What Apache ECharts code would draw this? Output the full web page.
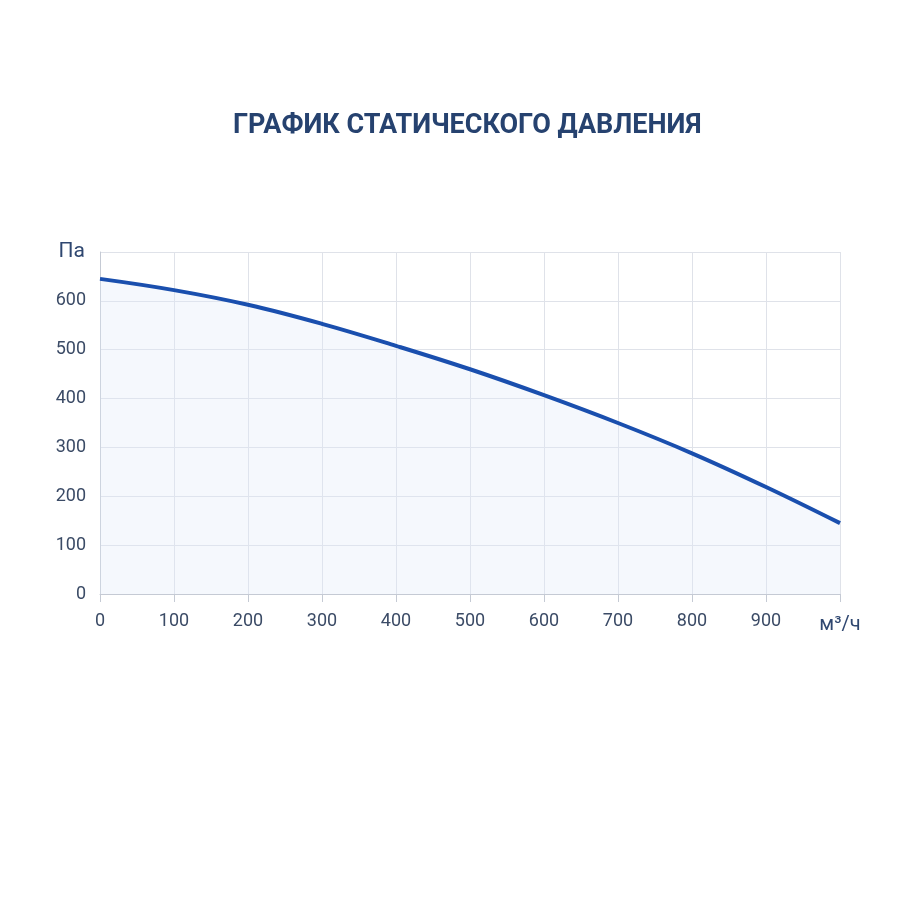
<!DOCTYPE html>
<html>
<head>
<meta charset="utf-8">
<script src="https://cdn.jsdelivr.net/npm/echarts@6/dist/echarts.min.js"></script>
<style>
  html, body { margin: 0; padding: 0; background: #ffffff; }
  #mychart { width: 900px; height: 900px; }
</style>
</head>
<body>
<div id="mychart"></div>
<script>
var flowValues = [0, 100, 200, 300, 400, 500, 600, 700, 800, 900, 1000];
var pressureValues = [645, 622, 592, 553, 508, 460, 407, 350, 288, 219, 145];

var points = flowValues.map(function (x, i) { return [x, pressureValues[i]]; });

var dom = document.getElementById("mychart");
var myChart = echarts.init(dom);

var option = {
    backgroundColor: '#ffffff',
    title: {
        text: 'ГРАФИК СТАТИЧЕСКОГО ДАВЛЕНИЯ',
        left: 228,
        top: 108,
        textStyle: {
            fontFamily: 'Roboto',
            fontSize: 27,
            fontWeight: 'bold',
            color: '#26426f'
        }
    },
    grid: {
        left: 100,
        right: 60,
        top: 252,
        bottom: 306
    },
    xAxis: {
        type: 'value',
        min: 0,
        max: 1000,
        interval: 100,
        name: 'м³/ч',
        nameLocation: 'end',
        nameGap: 0,
        nameTextStyle: {
            fontFamily: 'Roboto',
            fontSize: 20,
            color: '#2f4770',
            align: 'center',
            verticalAlign: 'top',
            lineHeight: 62
        },
        axisLine: { lineStyle: { color: '#c5cad4' } },
        axisTick: { show: true, length: 8, lineStyle: { color: '#c5cad4' } },
        axisLabel: {
            fontFamily: 'Roboto',
            fontSize: 18,
            color: '#3b4b66',
            margin: 18,
            formatter: function (v) { return v === 1000 ? '' : v; }
        },
        splitLine: { show: true, lineStyle: { color: '#dfe2e9' } }
    },
    yAxis: {
        type: 'value',
        min: 0,
        max: 700,
        interval: 100,
        name: 'Па',
        nameLocation: 'end',
        nameGap: 0,
        nameTextStyle: {
            fontFamily: 'Roboto',
            fontSize: 21,
            color: '#2f4770',
            align: 'right',
            verticalAlign: 'middle',
            padding: [0, 15, 0, 0]
        },
        axisLine: { show: true, lineStyle: { color: '#c5cad4' } },
        axisTick: { show: false },
        axisLabel: {
            fontFamily: 'Roboto',
            fontSize: 18,
            color: '#3b4b66',
            margin: 14,
            formatter: function (v) { return v === 700 ? '' : v; }
        },
        splitLine: { show: true, lineStyle: { color: '#dfe2e9' } }
    },
    series: [
        {
            type: 'line',
            data: points,
            smooth: 0.4,
            symbol: 'none',
            lineStyle: { color: '#1a4fae', width: 4 },
            areaStyle: { color: 'rgba(225, 232, 248, 0.45)' }
        }
    ]
};

myChart.setOption(option);
</script>
</body>
</html>
